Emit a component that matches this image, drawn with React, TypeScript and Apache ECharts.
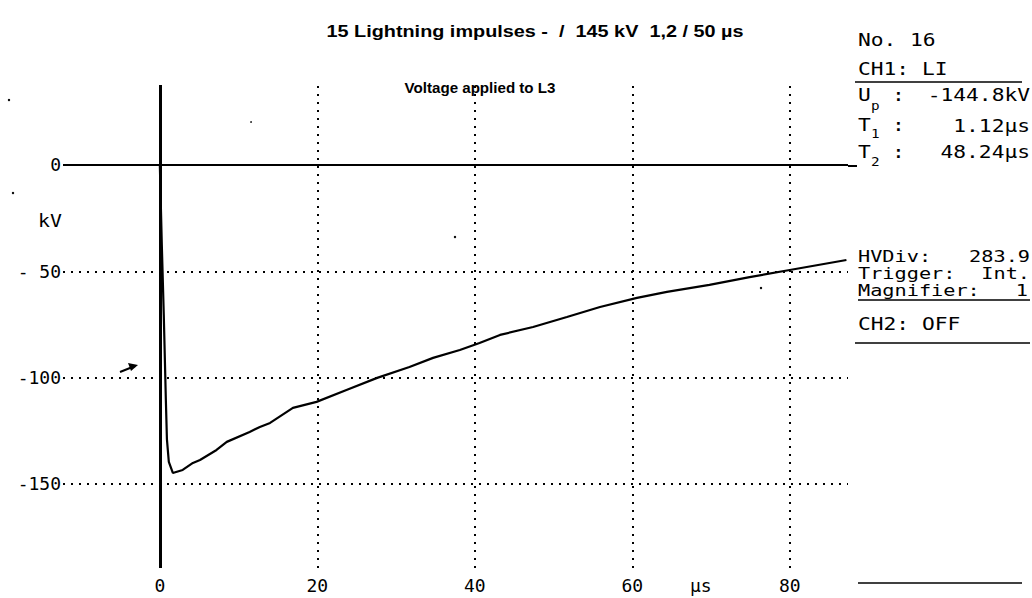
import React, { useEffect, useRef } from "react";
import * as echarts from "echarts";

// Recorded impulse trace: time in µs, voltage in kV
const timeUs = [
  0, 0.25, 0.5, 0.76, 0.9, 1.14, 1.65, 2.9, 4.2, 5.1, 7.2, 8.5, 11.4, 12.7, 14.0,
  16.9, 19.9, 23.7, 27.6, 31.7, 34.7, 38.1, 40.6, 43.2, 47.4, 51.7, 55.9, 60.6,
  64.4, 69.8, 74.9, 80.0, 87.2,
];
const voltageKV = [
  0, -37.6, -70.5, -110, -129, -139.6, -144.8, -143.4, -140.1, -138.7, -134.0,
  -130.2, -125.5, -123.2, -121.3, -114.2, -111.4, -105.8, -100.1, -95.0, -90.7,
  -87.0, -83.7, -79.9, -76.2, -71.5, -66.8, -62.5, -59.7, -56.4, -52.7, -49.4,
  -44.7,
];

// Axis ticks
const xTicks = [0, 20, 40, 60, 80];
const yTicks = [0, -50, -100, -150];

// Header and readout texts
const titleText = "15 Lightning impulses -  /  145 kV  1,2 / 50 µs";
const subtitleText = "Voltage applied to L3";
const shotNo = "16";
const peakValue = "-144.8kV";
const frontTime = "1.12µs";
const tailTime = "48.24µs";
const hvDiv = "283.9";
const triggerMode = "Int.";
const magnifier = "1";

const MONO = '"DejaVu Sans Mono", monospace';
const SANS = '"Liberation Sans", Arial, sans-serif';
const NB = "\u00a0";

function panelText(
  x: number,
  y: number,
  text: string,
  align = "left",
  size = 17,
  sx = 1.25
) {
  return {
    type: "text",
    x,
    y,
    scaleX: sx,
    silent: true,
    style: {
      text,
      fill: "#000",
      fontFamily: MONO,
      fontSize: size,
      align,
      verticalAlign: "middle",
    },
  };
}

function hLine(x1: number, x2: number, y: number, w = 1.5) {
  return {
    type: "line",
    silent: true,
    shape: { x1, y1: y, x2, y2: y },
    style: { stroke: "#000", lineWidth: w },
  };
}

function speck(x: number, y: number, r = 1.2) {
  return {
    type: "circle",
    silent: true,
    shape: { cx: x, cy: y, r },
    style: { fill: "#000" },
  };
}

export default function App() {
  const ref = useRef<HTMLDivElement>(null);

  useEffect(() => {
    if (!ref.current) return;
    const chart = echarts.init(ref.current, undefined, { renderer: "svg" });

    const dotted = { color: "#000", width: 2, type: [2, 6] as number[] };
    const solid = { color: "#000", width: 2, type: "solid" };

    const gridLines = [
      ...xTicks.map((v) => ({
        xAxis: v,
        lineStyle: v === 0 ? { ...solid, width: 3 } : dotted,
      })),
      ...yTicks.map((v) => ({
        yAxis: v,
        lineStyle: v === 0 ? solid : dotted,
      })),
    ];

    const option = {
      animation: false,
      backgroundColor: "#fff",
      grid: { left: 63, right: 184, top: 85, bottom: 30 },
      xAxis: {
        type: "value",
        min: -12.3,
        max: 87.4,
        axisLine: { show: false },
        axisTick: { show: false },
        splitLine: { show: false },
        axisLabel: {
          customValues: xTicks,
          margin: 8,
          color: "#000",
          fontFamily: MONO,
          fontSize: 18,
          formatter: (v: number) => String(v),
        },
      },
      yAxis: {
        type: "value",
        min: -189.5,
        max: 37.6,
        axisLine: { show: false },
        axisTick: { show: false },
        splitLine: { show: false },
        axisLabel: {
          customValues: yTicks,
          margin: 2,
          color: "#000",
          fontFamily: MONO,
          fontSize: 18,
          formatter: (v: number) =>
            v === 0 ? "0" : "-" + String(Math.abs(v)).padStart(3, NB),
        },
      },
      series: [
        {
          type: "line",
          data: [],
          silent: true,
          markLine: {
            silent: true,
            symbol: "none",
            label: { show: false },
            data: gridLines,
          },
        },
        {
          type: "line",
          data: timeUs.map((t, i) => [t, voltageKV[i]]),
          showSymbol: false,
          silent: true,
          lineStyle: { color: "#000", width: 2.2 },
        },
      ],
      graphic: [
        {
          type: "text",
          x: 535,
          y: 32,
          scaleX: 1.24,
          silent: true,
          style: {
            text: titleText,
            fill: "#000",
            fontFamily: SANS,
            fontWeight: "bold",
            fontSize: 16,
            align: "center",
            verticalAlign: "middle",
          },
        },
        {
          type: "text",
          x: 480,
          y: 88,
          scaleX: 1.08,
          silent: true,
          style: {
            text: subtitleText,
            fill: "#000",
            fontFamily: SANS,
            fontWeight: "bold",
            fontSize: 14,
            align: "center",
            verticalAlign: "middle",
          },
        },
        panelText(38, 220, "kV", "left", 18, 1.1),
        panelText(690, 585, "µs", "left", 18, 1),
        // trigger level marker
        {
          type: "line",
          silent: true,
          shape: { x1: 120, y1: 372, x2: 135, y2: 366 },
          style: { stroke: "#000", lineWidth: 2 },
        },
        {
          type: "polygon",
          silent: true,
          shape: { points: [[128, 363], [138, 365], [131, 371]] },
          style: { fill: "#000" },
        },
        // readout panel
        panelText(858, 40, "No."),
        panelText(910, 40, shotNo),
        panelText(858, 69, "CH1:" + NB + "LI"),
        hLine(855, 1022, 82),
        panelText(858, 95, "U"),
        panelText(871, 105, "p", "left", 13, 1.1),
        panelText(892, 95, ":"),
        panelText(1030, 95, peakValue, "right"),
        panelText(858, 125, "T"),
        panelText(871, 133, "1", "left", 13, 1.1),
        panelText(892, 125, ":"),
        panelText(1030, 126, frontTime, "right"),
        hLine(848, 857, 166, 2),
        panelText(858, 152, "T"),
        panelText(871, 161, "2", "left", 13, 1.1),
        panelText(892, 152, ":"),
        panelText(1030, 152, tailTime, "right"),
        panelText(858, 257, "HVDiv:", "left", 15, 1.35),
        panelText(1030, 257, hvDiv, "right", 15, 1.35),
        panelText(858, 274, "Trigger:", "left", 15, 1.35),
        panelText(1030, 274, triggerMode, "right", 15, 1.35),
        panelText(858, 291, "Magnifier:", "left", 15, 1.35),
        panelText(1028, 291, magnifier, "right", 15, 1.35),
        hLine(858, 1030, 300),
        panelText(858, 324, "CH2:" + NB + "OFF"),
        hLine(855, 1030, 343),
        hLine(858, 1022, 583),
        // paper specks
        speck(9, 100),
        speck(13, 193),
        speck(455, 237),
        speck(761, 288),
        speck(251, 122, 0.8),
      ],
    };

    chart.setOption(option as any);
    return () => chart.dispose();
  }, []);

  return (
    <div
      ref={ref}
      style={{ position: "fixed", left: 0, top: 0, width: 1032, height: 598, background: "#fff" }}
    />
  );
}
